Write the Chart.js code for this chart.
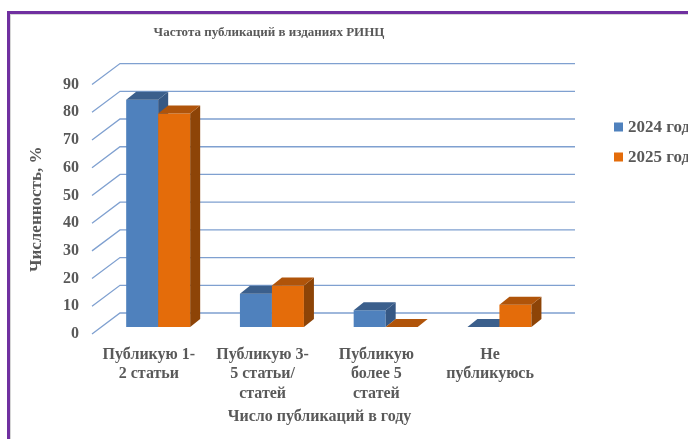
<!DOCTYPE html>
<html>
<head>
<meta charset="utf-8">
<script src="https://cdn.jsdelivr.net/npm/chart.js@4.4.1/dist/chart.umd.min.js"></script>
<style>
  html, body { margin: 0; padding: 0; background: #fff; overflow: hidden; }
  #wrap { position: relative; width: 688px; height: 439px; }
  #frame {
    position: absolute; left: 7px; top: 11px; width: 800px; height: 600px;
    border-left: 3px solid #7030a0; border-top: 3px solid #7030a0;
    box-shadow: inset 1px 1px 0 #d6d6d6;
  }
  #chart { position: absolute; left: 0; top: 0; }
</style>
</head>
<body>
<div id="wrap">
  <div id="frame"></div>
  <canvas id="chart" width="688" height="439"></canvas>
</div>
<script>
  const categories = [
    ["Публикую 1-", "2 статьи"],
    ["Публикую 3-", "5 статьи/", "статей"],
    ["Публикую", "более 5", "статей"],
    ["Не", "публикуюсь"],
  ];
  const seriesNames = ["2024 год", "2025 год"];
  const values2024 = [82, 12, 6, 0];
  const values2025 = [77, 15, 0, 8];
  const yTicks = [0, 10, 20, 30, 40, 50, 60, 70, 80, 90];

  const TEXT = "#595959";
  const FONT = "'Liberation Serif', 'Times New Roman', serif";
  // front / top / side shades for each series
  const shades = [
    { front: "#4f81bd", top: "#3b5f8c", side: "#365884" },
    { front: "#e46c0a", top: "#b0540a", side: "#8d4407" },
  ];
  const WALL_DX = 28, WALL_DY = 21;   // back wall offset
  const SHIFT_X = 9.3, SHIFT_Y = 7;   // bars sit a third into the floor
  const BAR_DX = 10, BAR_DY = 8;      // bar depth

  Chart.defaults.font.family = FONT;
  Chart.defaults.color = TEXT;

  const depthPlugin = {
    id: "depth",
    beforeDatasetsDraw(chart) {
      const { ctx, chartArea } = chart;
      const y = chart.scales.y;
      ctx.save();
      ctx.strokeStyle = "#7fa0d0";
      ctx.lineWidth = 1.3;
      yTicks.forEach((v) => {
        const fy = y.getPixelForValue(v);
        ctx.beginPath();
        ctx.moveTo(chartArea.left, fy);
        ctx.lineTo(chartArea.left + WALL_DX, fy - WALL_DY);
        ctx.lineTo(chartArea.right + WALL_DX, fy - WALL_DY);
        ctx.stroke();
      });
      ctx.restore();
    },
    // skip the flat default pass, bars are drawn below with their depth
    beforeDatasetDraw() {
      return false;
    },
    afterDatasetsDraw(chart) {
      const { ctx } = chart;
      ctx.save();
      ctx.translate(SHIFT_X, -SHIFT_Y);
      chart.data.datasets.forEach((ds, i) => {
        const sh = shades[i];
        chart.getDatasetMeta(i).data.forEach((bar) => {
          const { x, y, base, width } = bar.getProps(["x", "y", "base", "width"], true);
          const l = x - width / 2, r = x + width / 2;
          const top = Math.min(y, base), bot = Math.max(y, base);
          bar.draw(ctx);
          ctx.fillStyle = sh.side;
          ctx.beginPath();
          ctx.moveTo(r, top);
          ctx.lineTo(r + BAR_DX, top - BAR_DY);
          ctx.lineTo(r + BAR_DX, bot - BAR_DY);
          ctx.lineTo(r, bot);
          ctx.closePath();
          ctx.fill();
          ctx.fillStyle = sh.top;
          ctx.beginPath();
          ctx.moveTo(l, top);
          ctx.lineTo(l + BAR_DX, top - BAR_DY);
          ctx.lineTo(r + BAR_DX, top - BAR_DY);
          ctx.lineTo(r, top);
          ctx.closePath();
          ctx.fill();
        });
      });
      ctx.restore();
      // legend
      ctx.save();
      ctx.font = "bold 17px " + FONT;
      ctx.textBaseline = "middle";
      ctx.textAlign = "left";
      chart.data.datasets.forEach((ds, i) => {
        const cy = 127 + i * 30;
        ctx.fillStyle = ds.backgroundColor;
        ctx.fillRect(614, cy - 4.5, 9, 9);
        ctx.fillStyle = TEXT;
        ctx.fillText(ds.label, 628, cy + 1);
      });
      ctx.restore();
    },
  };

  new Chart(document.getElementById("chart"), {
    type: "bar",
    data: {
      labels: categories,
      datasets: [
        { label: seriesNames[0], data: values2024, backgroundColor: shades[0].front },
        { label: seriesNames[1], data: values2025, backgroundColor: shades[1].front },
      ],
    },
    options: {
      responsive: false,
      animation: false,
      layout: { padding: { left: -9, right: 141, top: 0, bottom: 0 } },
      datasets: {
        bar: { categoryPercentage: 0.5626, barPercentage: 1, borderWidth: 0, clip: false },
      },
      plugins: {
        legend: { display: false },
        tooltip: { enabled: false },
        title: {
          display: true,
          text: "Частота публикаций в изданиях РИНЦ",
          color: TEXT,
          font: { size: 13, weight: "bold", lineHeight: 1.2 },
          padding: { top: 25, bottom: 44 },
        },
      },
      scales: {
        x: {
          grid: { display: false, drawTicks: false },
          border: { display: false },
          ticks: {
            color: TEXT,
            font: { size: 16, weight: "bold", lineHeight: 1.2 },
            padding: 11.5,
            maxRotation: 0,
            autoSkip: false,
          },
          title: {
            display: true,
            text: "Число публикаций в году",
            color: TEXT,
            font: { size: 16, weight: "bold", lineHeight: 1.2 },
            padding: { top: 0, bottom: 12.4 },
          },
          afterFit: (scale) => { scale.height = 105; },
        },
        y: {
          min: 0,
          max: 90,
          grid: { display: false, drawTicks: false },
          border: { display: false },
          ticks: {
            stepSize: 10,
            color: TEXT,
            font: { size: 16, weight: "bold" },
            padding: 13,
          },
          title: {
            display: true,
            text: "Численность, %",
            color: TEXT,
            font: { size: 17, weight: "bold", lineHeight: 1.2 },
            padding: { top: 35.8, bottom: 0 },
          },
          afterFit: (scale) => { scale.width = 101; },
        },
      },
    },
    plugins: [depthPlugin],
  });
</script>
</body>
</html>
